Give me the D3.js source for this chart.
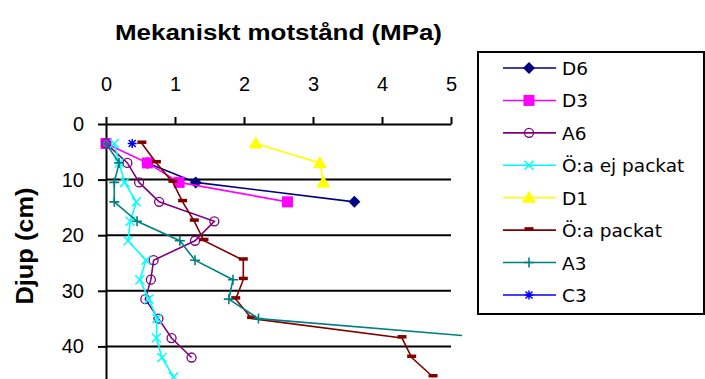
<!DOCTYPE html>
<html>
<head>
<meta charset="utf-8">
<script src="https://cdn.jsdelivr.net/npm/d3@7"></script>
<style>
  body { margin: 0; background: #fff; }
  text { font-family: "Liberation Sans", Arial, sans-serif; fill: #000; }
</style>
</head>
<body>
<svg id="chart" width="705" height="379"></svg>
<script>
// Penetration resistance profiles: depth (cm) vs mechanical resistance (MPa)
const depths = [3.5, 7, 10.5, 14, 17.5, 21, 24.5, 28, 31.5, 35, 38.5, 42, 45.5];

const seriesNames = ["D6", "D3", "A6", "Ö:a ej packat", "D1", "Ö:a packat", "A3", "C3"];
const seriesColors = ["#000080", "#ff00ff", "#800080", "#00ffff", "#ffff00", "#800000", "#008080", "#0000ff"];
const seriesMarkers = ["diamond", "square", "circle", "x", "triangle", "dash", "plus", "star"];

// values aligned with depths; null = no measurement
const valuesD6 = [null, 0.6, 1.3, 3.6];
const valuesD3 = [0, 0.6, 1.06, 2.63];
const valuesA6 = [0, 0.31, 0.48, 0.77, 1.57, 1.29, 0.69, 0.65, 0.57, 0.76, 0.95, 1.24];
const valuesOaEjPackat = [0.12, 0.19, 0.27, 0.44, 0.35, 0.32, 0.58, 0.49, 0.62, 0.74, 0.73, 0.81, 0.98];
const valuesD1 = [2.17, 3.1, 3.15];
const valuesOaPackat = [0.52, 0.73, 0.97, 1.11, 1.28, 1.42, 1.99, 1.99, 1.88, 2.11, 4.29, 4.43, 4.74];
const valuesA3 = [0, 0.19, 0.12, 0.12, 0.45, 1.07, 1.29, 1.84, 1.78, 2.21, 5.6];
const valuesC3 = [0.38];

const xTicks = [0, 1, 2, 3, 4, 5];
const yTicks = [0, 10, 20, 30, 40];

const chartTitle = "Mekaniskt motstånd (MPa)";
const yTitle = "Djup (cm)";

const allValues = [valuesD6, valuesD3, valuesA6, valuesOaEjPackat, valuesD1, valuesOaPackat, valuesA3, valuesC3];
const series = seriesNames.map((name, i) => ({
  name,
  color: seriesColors[i],
  marker: seriesMarkers[i],
  points: allValues[i].map((v, j) => ({ v, d: depths[j] })).filter(p => p.v != null)
}));

const svg = d3.select("#chart");
const x = d3.scaleLinear().domain([0, 5]).range([106, 451]);
const y = d3.scaleLinear().domain([0, 50]).range([124, 402]);

// horizontal gridlines
svg.append("g").selectAll("line")
  .data(yTicks.filter(t => t > 0))
  .join("line")
  .attr("x1", x(0)).attr("x2", x(5))
  .attr("y1", d => y(d)).attr("y2", d => y(d))
  .attr("stroke", "#000").attr("stroke-width", 2);

// x axis on top
const xAxis = svg.append("g").attr("transform", `translate(0,${y(0)})`)
  .call(d3.axisTop(x).tickValues(xTicks).tickFormat(d3.format("d"))
    .tickSize(7).tickSizeOuter(0).tickPadding(26));
xAxis.select(".domain").attr("stroke", "#000").attr("stroke-width", 2);
xAxis.selectAll(".tick line").attr("stroke", "#000").attr("stroke-width", 2);
xAxis.selectAll(".tick text")
  .style("font-family", "'Liberation Sans', Arial, sans-serif")
  .attr("font-size", 20).attr("fill", "#000");

// y axis on the left
const yAxis = svg.append("g").attr("transform", `translate(${x(0)},0)`)
  .call(d3.axisLeft(y).tickValues(yTicks).tickFormat(d3.format("d"))
    .tickSize(8).tickSizeOuter(0).tickPadding(14));
yAxis.select(".domain").attr("stroke", "#000").attr("stroke-width", 2);
yAxis.selectAll(".tick line").attr("stroke", "#000").attr("stroke-width", 2);
yAxis.selectAll(".tick text")
  .style("font-family", "'Liberation Sans', Arial, sans-serif")
  .attr("font-size", 20).attr("fill", "#000");

// titles
svg.append("text")
  .attr("x", 278.5).attr("y", 40)
  .attr("text-anchor", "middle")
  .attr("font-size", 22).attr("font-weight", "bold")
  .attr("textLength", 327).attr("lengthAdjust", "spacingAndGlyphs")
  .text(chartTitle);

svg.append("text")
  .attr("transform", "translate(33,246) rotate(-90)")
  .attr("text-anchor", "middle")
  .attr("font-size", 24).attr("font-weight", "bold")
  .attr("textLength", 117).attr("lengthAdjust", "spacingAndGlyphs")
  .text(yTitle);

// marker drawing
function drawMarker(g, type, color) {
  switch (type) {
    case "diamond":
      g.append("path").attr("d", "M0,-6L6,0L0,6L-6,0Z").attr("fill", color);
      break;
    case "square":
      g.append("rect").attr("x", -5.5).attr("y", -5.5).attr("width", 11).attr("height", 11).attr("fill", color);
      break;
    case "circle":
      g.append("circle").attr("r", 4.5).attr("fill", "none").attr("stroke", color).attr("stroke-width", 1.3);
      break;
    case "x":
      g.append("path").attr("d", "M-4.5,-4.5L4.5,4.5M-4.5,4.5L4.5,-4.5").attr("stroke", color).attr("stroke-width", 1.5);
      break;
    case "triangle":
      g.append("path").attr("d", "M0,-7L7,5L-7,5Z").attr("fill", color);
      break;
    case "dash":
      g.append("rect").attr("x", -4.5).attr("y", -3).attr("width", 9).attr("height", 3.5).attr("fill", color);
      break;
    case "plus":
      g.append("path").attr("d", "M-5,0L5,0M0,-5L0,5").attr("stroke", color).attr("stroke-width", 1.6);
      break;
    case "star":
      g.append("path").attr("d", "M-4.5,0L4.5,0M0,-4.5L0,4.5M-3.5,-3.5L3.5,3.5M-3.5,3.5L3.5,-3.5").attr("stroke", color).attr("stroke-width", 1.5);
      break;
  }
}

// plot region clipping
svg.append("clipPath").attr("id", "plotClip")
  .append("rect").attr("x", 0).attr("y", 0).attr("width", 462).attr("height", 379);

const plot = svg.append("g").attr("clip-path", "url(#plotClip)");
const line = d3.line().x(p => x(p.v)).y(p => y(p.d));

series.forEach(s => {
  const g = plot.append("g");
  g.append("path")
    .attr("d", line(s.points))
    .attr("fill", "none")
    .attr("stroke", s.color)
    .attr("stroke-width", 1.6);
  g.selectAll("g.mk").data(s.points).join("g")
    .attr("class", "mk")
    .attr("transform", p => `translate(${x(p.v)},${y(p.d)})`)
    .each(function () { drawMarker(d3.select(this), s.marker, s.color); });
});

// legend
const legend = svg.append("g");
legend.append("rect")
  .attr("x", 478).attr("y", 52).attr("width", 226).attr("height", 262)
  .attr("fill", "#fff").attr("stroke", "#000").attr("stroke-width", 2);

const legendRow = d3.scaleLinear().domain([0, seriesNames.length - 1]).range([68, 295]);
series.forEach((s, i) => {
  const ly = legendRow(i);
  const row = legend.append("g").attr("transform", `translate(0,${ly})`);
  row.append("line").attr("x1", 503).attr("x2", 556).attr("y1", 0).attr("y2", 0)
    .attr("stroke", s.color).attr("stroke-width", 1.6);
  const mk = row.append("g").attr("transform", "translate(529,0)");
  drawMarker(mk, s.marker, s.color);
  row.append("text")
    .attr("x", 562).attr("y", 7)
    .style("font-family", "'DejaVu Sans', sans-serif")
    .attr("font-size", 18.5)
    .text(s.name);
});
</script>
</body>
</html>
